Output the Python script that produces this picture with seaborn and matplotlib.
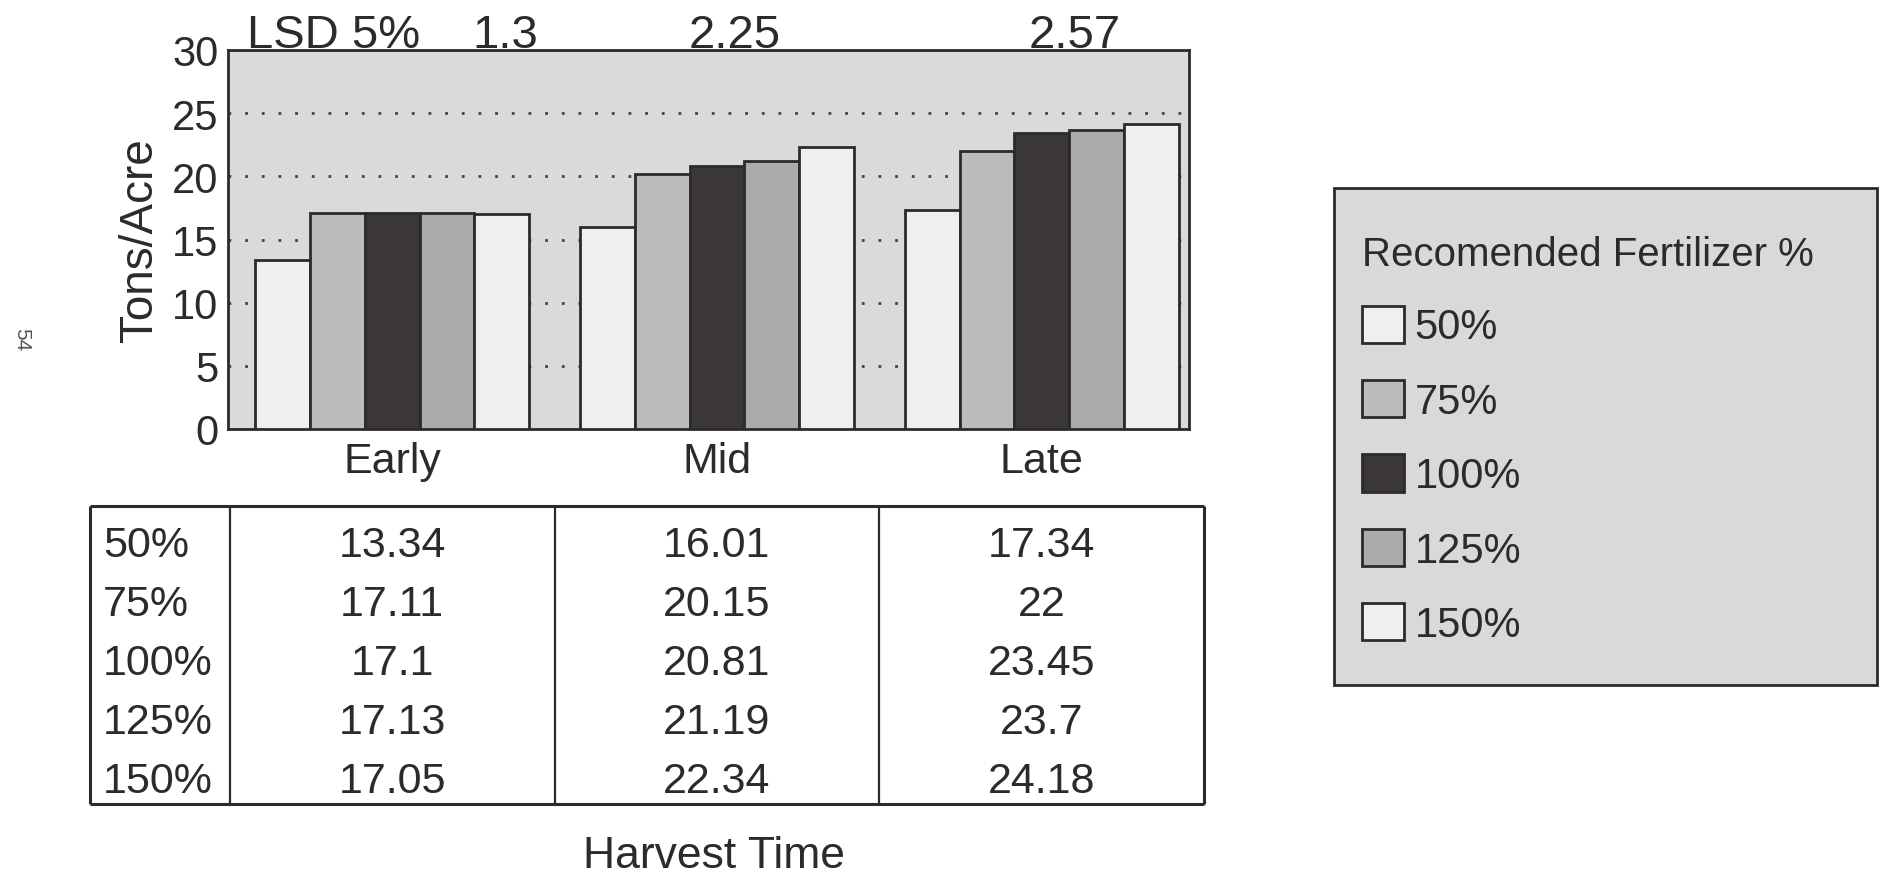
import numpy as np
import pandas as pd
import matplotlib
matplotlib.use("Agg")
import matplotlib.pyplot as plt
from matplotlib.patches import Rectangle
import seaborn as sns

# ---------------- data ----------------
harvest = ["Early", "Mid", "Late"]
fertilizer = ["50%", "75%", "100%", "125%", "150%"]
yield_50 = [13.34, 16.01, 17.34]
yield_75 = [17.11, 20.15, 22]
yield_100 = [17.1, 20.81, 23.45]
yield_125 = [17.13, 21.19, 23.7]
yield_150 = [17.05, 22.34, 24.18]
lsd_label = "LSD 5%"
lsd_values = [1.3, 2.25, 2.57]
y_ticks = [0, 5, 10, 15, 20, 25, 30]

series = [yield_50, yield_75, yield_100, yield_125, yield_150]
rows = []
for f, vals in zip(fertilizer, series):
    for h, v in zip(harvest, vals):
        rows.append({"Harvest": h, "Fertilizer": f, "Tons": v})
df = pd.DataFrame(rows)

# ---------------- style ----------------
bar_colors = ["#efefef", "#bcbcbc", "#3b363a", "#ababab", "#efefef"]
ink = "#2b2b2b"
sns.set_theme(style="white")
plt.rcParams["font.family"] = ["Liberation Sans", "DejaVu Sans"]
plt.rcParams["text.color"] = ink
plt.rcParams["axes.labelcolor"] = ink
plt.rcParams["xtick.color"] = ink
plt.rcParams["ytick.color"] = ink

W, H = 1884, 879
fig = plt.figure(figsize=(W / 100, H / 100), dpi=100)
fig.patch.set_facecolor("white")

# main bar axes
ax = fig.add_axes([228 / W, 1 - 430 / H, 961 / W, 379 / H])
ax.set_facecolor("#dadada")
sns.barplot(data=df, x="Harvest", y="Tons", hue="Fertilizer",
            order=harvest, hue_order=fertilizer, palette=bar_colors,
            width=0.843, saturation=1, errorbar=None,
            edgecolor=ink, linewidth=2, ax=ax, zorder=3)

xlim = (-0.5056, 2.4537)
ax.set_xlim(*xlim)
ax.set_ylim(0, 30)
ax.set_yticks(y_ticks)
ax.set_yticklabels([str(t) for t in y_ticks])
ax.tick_params(axis="both", length=0, labelsize=30)
ax.tick_params(axis="x", labelsize=31, pad=9)
ax.tick_params(axis="y", pad=7)
ax.set_xlabel("")
ax.set_ylabel("Tons/Acre", fontsize=33)
ax.yaxis.set_label_coords(-0.069, 0.5)
ax.set_axisbelow(True)
ax.yaxis.grid(True, color="#444444", linestyle=(0, (1, 5)), linewidth=2)
ax.xaxis.grid(False)
for s in ax.spines.values():
    s.set_visible(True)
    s.set_color(ink)
    s.set_linewidth(2)

# LSD annotations above plot
lsd_label_x = -0.447
lsd_value_x = [0.347, 1.056, 2.103]
ax.annotate(lsd_label, xy=(lsd_label_x, 1.0), xycoords=("data", "axes fraction"),
            xytext=(0, 2), textcoords="offset points", ha="left", va="baseline",
            fontsize=34)
for xv, lv in zip(lsd_value_x, lsd_values):
    ax.annotate(f"{lv:g}", xy=(xv, 1.0), xycoords=("data", "axes fraction"),
                xytext=(0, 2), textcoords="offset points", ha="center",
                va="baseline", fontsize=34)

# legend (content placed inside a separately drawn stippled box)
box = Rectangle((1334 / W, 1 - 686 / H), 543 / W, 497 / H,
                transform=fig.transFigure, facecolor="#d9d9d9",
                edgecolor=ink, linewidth=2, zorder=0)
fig.add_artist(box)
sns.move_legend(ax, loc="upper left",
                bbox_to_anchor=(1362 / W, 1 - 236 / H),
                bbox_transform=fig.transFigure,
                title="Recomended Fertilizer %", title_fontsize=29,
                fontsize=30, frameon=False,
                handlelength=1.0, handleheight=1.0, handletextpad=0.26,
                labelspacing=0.78, borderpad=0, borderaxespad=0,
                alignment="left")
leg = ax.get_legend()
leg.set_zorder(5)
for hnd in leg.legend_handles:
    hnd.set_edgecolor(ink)
    hnd.set_linewidth(2)

# data table below
tax = fig.add_axes([228 / W, 1 - 805 / H, 961 / W, 298 / H])
tax.set_xlim(*xlim)
tax.set_ylim(4.94, -0.09)
tax.axis("off")
col_bounds = [-0.5, 0.5, 1.5, 2.5]
left_edge = -0.93
top, bottom = -0.09, 4.94
tax.hlines([top, bottom], left_edge, col_bounds[-1], color=ink, linewidth=2.2,
           clip_on=False)
tax.vlines([left_edge] + col_bounds, top, bottom, color=ink,
           linewidth=[2.2, 1.6, 1.6, 1.6, 2.2], clip_on=False)
for i, (f, vals) in enumerate(zip(fertilizer, series)):
    tax.text(-0.89, i + 0.56, f, ha="left", va="center", fontsize=31)
    for j, v in enumerate(vals):
        tax.text(j, i + 0.56, f"{v:g}", ha="center", va="center", fontsize=31)

fig.text(714 / W, 1 - 857 / H, "Harvest Time", ha="center", va="center",
         fontsize=32)
fig.text(22 / W, 1 - 340 / H, "54", rotation=-90, ha="center", va="center",
         fontsize=15, color="#555555")

fig.savefig("out.png", dpi=100)
